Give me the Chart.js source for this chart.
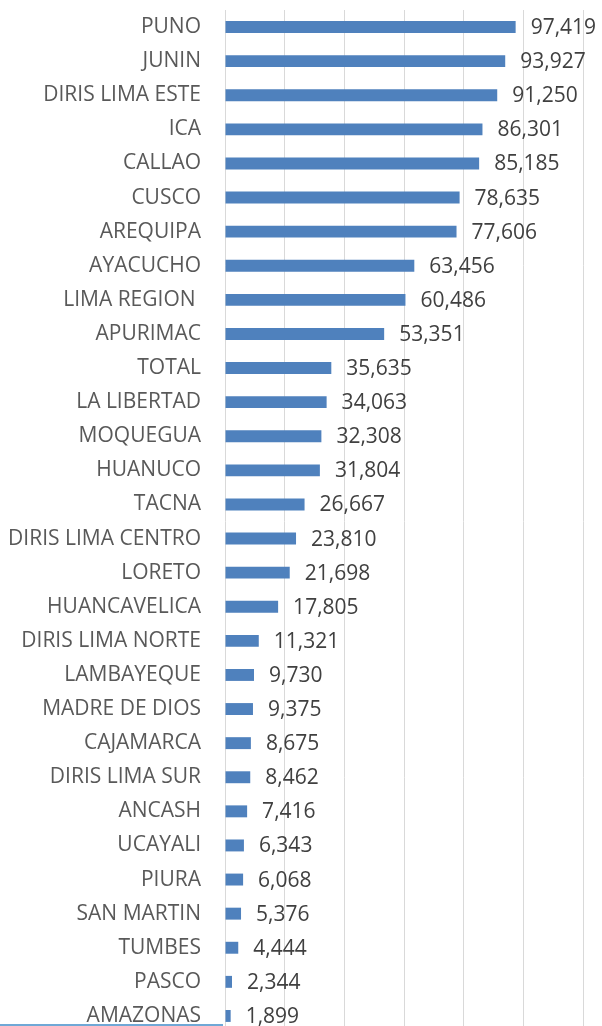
<!DOCTYPE html>
<html>
<head>
<meta charset="utf-8">
<script src="https://cdn.jsdelivr.net/npm/chart.js@4.4.1/dist/chart.umd.min.js"></script>
<style>
  html, body { margin: 0; padding: 0; background: #fff; overflow: hidden; }
  #wrap { position: relative; width: 602px; height: 1036px; }
  #edge { position: absolute; left: 0; top: 1024px; width: 223px; height: 2px; background: #6fa8d6; }
</style>
</head>
<body>
<div id="wrap">
  <canvas id="chart"></canvas>
</div>
<div id="edge"></div>
<script>
const regiones = [
  "PUNO", "JUNIN", "DIRIS LIMA ESTE", "ICA", "CALLAO", "CUSCO", "AREQUIPA",
  "AYACUCHO", "LIMA REGION ", "APURIMAC", "TOTAL", "LA LIBERTAD", "MOQUEGUA",
  "HUANUCO", "TACNA", "DIRIS LIMA CENTRO", "LORETO", "HUANCAVELICA",
  "DIRIS LIMA NORTE", "LAMBAYEQUE", "MADRE DE DIOS", "CAJAMARCA",
  "DIRIS LIMA SUR", "ANCASH", "UCAYALI", "PIURA", "SAN MARTIN", "TUMBES",
  "PASCO", "AMAZONAS"
];
const valores = [
  97419, 93927, 91250, 86301, 85185, 78635, 77606,
  63456, 60486, 53351, 35635, 34063, 32308,
  31804, 26667, 23810, 21698, 17805,
  11321, 9730, 9375, 8675,
  8462, 7416, 6343, 6068, 5376, 4444,
  2344, 1899
];
const ejeMin = 0;
const ejeMax = 120000;
const ejePaso = 20000;

// etiquetas de valor al final de cada barra
const etiquetasValor = {
  id: "etiquetasValor",
  afterDatasetsDraw(chart) {
    const ctx = chart.ctx;
    const meta = chart.getDatasetMeta(0);
    ctx.save();
    ctx.font = "21px 'Open Sans'";
    ctx.fillStyle = "#404040";
    ctx.textAlign = "left";
    ctx.textBaseline = "middle";
    meta.data.forEach((bar, i) => {
      const txt = valores[i].toLocaleString("en-US");
      ctx.fillText(txt, bar.x + 15, bar.y + 1);
    });
    ctx.restore();
  }
};

const ctx = document.getElementById("chart").getContext("2d");
new Chart(ctx, {
  type: "bar",
  data: {
    labels: regiones,
    datasets: [
      {
        data: valores,
        backgroundColor: "#4f81bd",
        borderWidth: 0,
        categoryPercentage: 0.7,
        barPercentage: 0.5,
      },
    ],
  },
  options: {
    indexAxis: "y",
    responsive: true,
    maintainAspectRatio: false,
    animation: false,
    layout: { padding: { top: 10, right: 19, bottom: 3, left: 0 } },
    plugins: {
      legend: { display: false },
      tooltip: { enabled: false },
    },
    scales: {
      x: {
        min: ejeMin,
        max: ejeMax,
        ticks: { display: false, stepSize: ejePaso },
        grid: { color: "#d9d9d9", lineWidth: 1, drawTicks: false },
        border: { display: false },
      },
      y: {
        afterFit(scale) {
          scale.width = 225;
          scale.paddingTop = 0;
          scale.paddingBottom = 0;
        },
        ticks: {
          color: "#595959",
          font: { family: "'Open Sans'", size: 21 },
          padding: 24,
          autoSkip: false,
        },
        grid: { display: false, drawTicks: false },
        border: { display: false },
      },
    },
  },
  plugins: [etiquetasValor],
});
</script>
</body>
</html>
